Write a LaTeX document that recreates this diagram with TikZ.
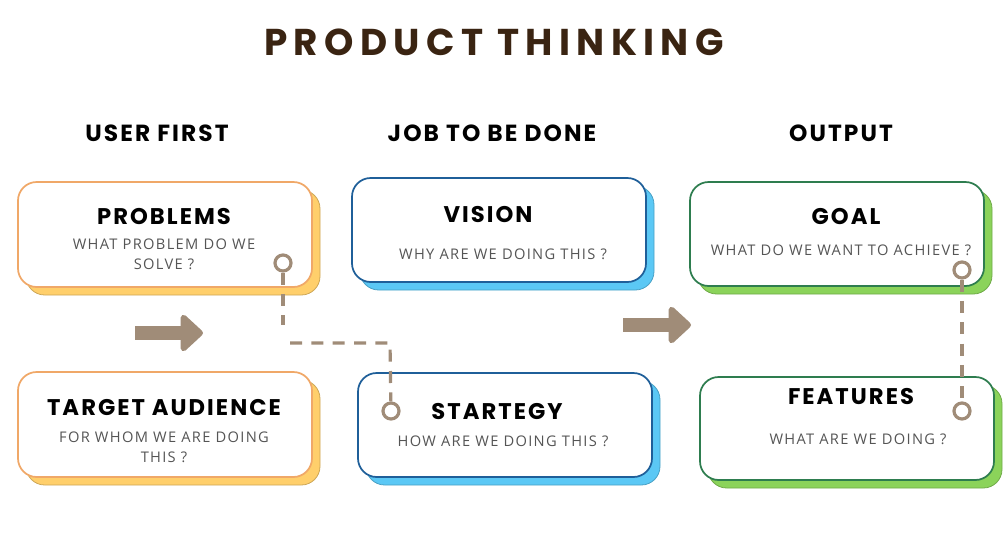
\documentclass[tikz,border=0pt]{standalone}
\usepackage{fontspec}
\setmainfont{Poppins}
\newfontfamily\titlef{Poppins}[LetterSpace=17]
\newfontfamily\headf{Poppins}[LetterSpace=9]
\newfontfamily\subf{Open Sans}[LetterSpace=9]
\usetikzlibrary{arrows.meta}
\definecolor{brownT}{HTML}{3A2412}
\definecolor{oB}{HTML}{F0A868}\definecolor{oS}{HTML}{FFCF6B}
\definecolor{bB}{HTML}{1F5F99}\definecolor{bS}{HTML}{5BC8F5}
\definecolor{gB}{HTML}{2E7D4F}\definecolor{gS}{HTML}{8BD35A}
\definecolor{conn}{HTML}{A08C78}
\definecolor{subc}{HTML}{555555}
\tikzset{
 card/.style={draw=#1,line width=1.3pt,fill=white,rounded corners=14pt},
 shad/.style={draw=#1!80!black,line width=0.6pt,fill=#1,rounded corners=14pt},
 head/.style={font=\headf\bfseries\fontsize{17.5}{20}\selectfont,text=black},
 btitle/.style={font=\headf\bfseries\fontsize{17}{20}\selectfont,text=black},
 bsub/.style={font=\subf\fontsize{11}{15}\selectfont,text=subc,align=center},
 bigarrow/.style={draw=conn,line width=11pt,-{Triangle[length=18pt,width=32pt,round]}},
 dashline/.style={draw=conn,line width=2.4pt,dash pattern=on 9pt off 7pt},
 ring/.style={circle,draw=conn,line width=2.4pt,fill=white,minimum size=12pt,inner sep=0pt}
}
\begin{document}
\begin{tikzpicture}[x=0.75pt,y=-0.75pt]
\useasboundingbox (0,0) rectangle (1004,540);
\node[font=\titlef\bfseries\fontsize{28}{32}\selectfont,text=brownT] (title) at (494,42) {PRODUCT THINKING};
\node[head] (h1) at (157,133) {USER FIRST};
\node[head] (h2) at (492,133) {JOB TO BE DONE};
\node[head] (h3) at (841,133) {OUTPUT};
\newcommand\mycard[6]{%
 \fill[shad=#6] (#1+8,#2+8) rectangle (#3+8,#4+8);
 \draw[card=#5] (#1,#2) rectangle (#3,#4);}
\mycard{18}{182}{312}{287}{oB}{oS}
\mycard{18}{372}{312}{477}{oB}{oS}
\mycard{352}{178}{646}{282}{bB}{bS}
\mycard{358}{373}{652}{477}{bB}{bS}
\mycard{690}{182}{984}{286}{gB}{gS}
\mycard{700}{377}{994}{480}{gB}{gS}
\node[btitle] (t1) at (164,217) {PROBLEMS};
\node[bsub] (s1) at (164,254) {WHAT PROBLEM DO WE\\SOLVE ?};
\node[btitle] (t2) at (164,408) {TARGET AUDIENCE};
\node[bsub] (s2) at (164,447) {FOR WHOM WE ARE DOING\\THIS ?};
\node[btitle] (t3) at (488,215) {VISION};
\node[bsub] (s3) at (503,254) {WHY ARE WE DOING THIS ?};
\node[btitle] (t4) at (497,412) {STARTEGY};
\node[bsub] (s4) at (503,441) {HOW ARE WE DOING THIS ?};
\node[btitle] (t5) at (846,217) {GOAL};
\node[bsub] (s5) at (841,250) {WHAT DO WE WANT TO ACHIEVE ?};
\node[btitle] (t6) at (851,397) {FEATURES};
\node[bsub] (s6) at (858,439) {WHAT ARE WE DOING ?};
\coordinate (a1s) at (135,333);\coordinate (a1e) at (203,333);
\coordinate (a2s) at (623,325);\coordinate (a2e) at (691,325);
\draw[bigarrow] (a1s) -- (a1e);
\draw[bigarrow] (a2s) -- (a2e);
\coordinate (d1) at (283,325);\coordinate (d2) at (290,343);\coordinate (d3) at (390,343);
\node[ring] (r1) at (283,263) {};
\node[ring] (r2) at (391,411) {};
\draw[dashline] (r1) -- (d1);
\draw[dashline] (d2) -- (d3) -- (r2);
\node[ring] (r3) at (962,270) {};
\node[ring] (r4) at (962,411) {};
\draw[dashline] (r3) -- (r4);
\end{tikzpicture}
\end{document}
